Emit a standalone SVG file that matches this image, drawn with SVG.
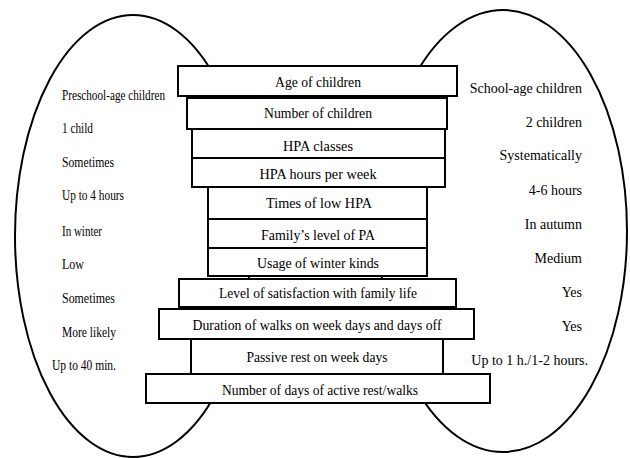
<svg xmlns="http://www.w3.org/2000/svg" width="630" height="458" viewBox="0 0 630 458">
<style>
.ell{fill:none;stroke:#000;stroke-width:2}
.box{fill:#fff;stroke:#000;stroke-width:2}
.bt{text-anchor:middle}
.rt{text-anchor:end}
</style>
<rect width="630" height="458" fill="#fff"/>
<g id="left-group" font-family="Liberation Serif" font-size="14" fill="#000">
<ellipse class="ell" cx="133" cy="236" rx="118" ry="221"/>
<text x="62" y="100" textLength="103" lengthAdjust="spacingAndGlyphs">Preschool-age children</text>
<text x="62" y="133" textLength="31" lengthAdjust="spacingAndGlyphs">1 child</text>
<text x="62" y="167" textLength="52" lengthAdjust="spacingAndGlyphs">Sometimes</text>
<text x="62" y="200" textLength="62" lengthAdjust="spacingAndGlyphs">Up to 4 hours</text>
<text x="62" y="236" textLength="40" lengthAdjust="spacingAndGlyphs">In winter</text>
<text x="62" y="269" textLength="22" lengthAdjust="spacingAndGlyphs">Low</text>
<text x="62" y="303" textLength="53" lengthAdjust="spacingAndGlyphs">Sometimes</text>
<text x="62" y="337" textLength="54" lengthAdjust="spacingAndGlyphs">More likely</text>
<text x="52" y="370" textLength="64" lengthAdjust="spacingAndGlyphs">Up to 40 min.</text>
</g>
<g id="right-group" font-family="Liberation Serif" font-size="14" fill="#000">
<ellipse class="ell" cx="503" cy="231" rx="124" ry="221"/>
<text class="rt" x="582" y="93">School-age children</text>
<text class="rt" x="582" y="127">2 children</text>
<text class="rt" x="582" y="160">Systematically</text>
<text class="rt" x="582" y="195">4-6 hours</text>
<text class="rt" x="582" y="229">In autumn</text>
<text class="rt" x="582" y="263">Medium</text>
<text class="rt" x="582" y="297">Yes</text>
<text class="rt" x="582" y="331">Yes</text>
<text class="rt" x="588" y="365">Up to 1 h./1-2 hours.</text>
</g>
<g id="connectors"></g>
<g id="boxes" font-family="Liberation Serif" font-size="15" fill="#000">
<g id="box1"><rect class="box" x="178" y="66" width="279" height="30"/><text class="bt" x="318" y="87" textLength="86" lengthAdjust="spacingAndGlyphs">Age of children</text></g>
<g id="box2"><rect class="box" x="187" y="98" width="260" height="31"/><text class="bt" x="318" y="118" textLength="108" lengthAdjust="spacingAndGlyphs">Number of children</text></g>
<g id="box3"><rect class="box" x="192" y="129" width="253" height="29"/><text class="bt" x="318" y="151" textLength="70" lengthAdjust="spacingAndGlyphs">HPA classes</text></g>
<g id="box4"><rect class="box" x="192" y="158" width="253" height="29"/><text class="bt" x="318" y="179" textLength="117" lengthAdjust="spacingAndGlyphs">HPA hours per week</text></g>
<g id="box5"><rect class="box" x="208" y="187" width="219" height="32"/><text class="bt" x="319" y="208" textLength="106" lengthAdjust="spacingAndGlyphs">Times of low HPA</text></g>
<g id="box6"><rect class="box" x="208" y="219" width="219" height="29"/><text class="bt" x="318" y="240" textLength="114" lengthAdjust="spacingAndGlyphs">Family’s level of PA</text></g>
<g id="box7"><rect class="box" x="208" y="248" width="219" height="28"/><text class="bt" x="318" y="268" textLength="122" lengthAdjust="spacingAndGlyphs">Usage of winter kinds</text></g>
<g id="box8"><rect class="box" x="179" y="279" width="277" height="28"/><text class="bt" x="318" y="298" textLength="198" lengthAdjust="spacingAndGlyphs">Level of satisfaction with family life</text></g>
<g id="box9"><rect class="box" x="159" y="309" width="315" height="30"/><text class="bt" x="317" y="330" textLength="249" lengthAdjust="spacingAndGlyphs">Duration of walks on week days and days off</text></g>
<g id="box10"><rect class="box" x="191" y="339" width="252" height="35"/><text class="bt" x="317" y="362" textLength="141" lengthAdjust="spacingAndGlyphs">Passive rest on week days</text></g>
<g id="box11"><rect class="box" x="146" y="374" width="344" height="29"/><text class="bt" x="320" y="395" textLength="196" lengthAdjust="spacingAndGlyphs">Number of days of active rest/walks</text></g>
</g>
</svg>
